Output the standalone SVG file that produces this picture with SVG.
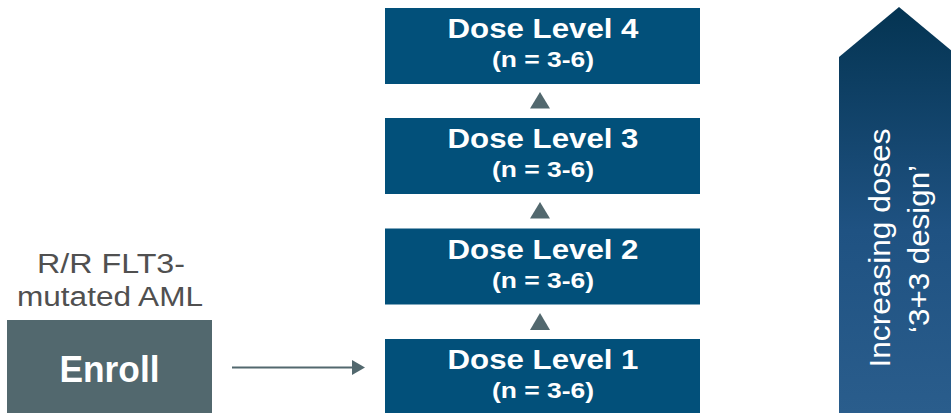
<svg xmlns="http://www.w3.org/2000/svg" width="951" height="413" viewBox="0 0 951 413">
<defs>
<linearGradient id="bigArrowGrad" x1="0" y1="0" x2="0" y2="1">
<stop offset="0" stop-color="#043452"/>
<stop offset="0.55" stop-color="#1f5282"/>
<stop offset="1" stop-color="#2a5d8c"/>
</linearGradient>
<marker id="arrowHead" viewBox="0 0 13 15" refX="0" refY="7.5" markerWidth="13" markerHeight="15" markerUnits="userSpaceOnUse" orient="auto">
<path d="M0,0 L13,7.5 L0,15 Z" fill="#52686e"/>
</marker>
<style>
.dose rect { fill: #02507a; }
.t { font-family: "Liberation Sans", Arial, sans-serif; fill: #ffffff; font-weight: bold; text-anchor: middle; }
.big { font-size: 28px; }
.small { font-size: 22px; }
.label { font-family: "Liberation Sans", Arial, sans-serif; fill: #505050; font-size: 27px; text-anchor: middle; }
.tri { fill: #52686e; }
.side { font-family: "Liberation Sans", Arial, sans-serif; fill: #ffffff; font-size: 30px; text-anchor: middle; }
</style>
</defs>
<rect width="951" height="413" fill="#ffffff"/>

<g id="label-population">
<text class="label" x="111" y="273" textLength="148" lengthAdjust="spacingAndGlyphs">R/R FLT3-</text>
<text class="label" x="110" y="306" textLength="186" lengthAdjust="spacingAndGlyphs">mutated AML</text>
</g>

<g id="enroll">
<rect x="7" y="320" width="205" height="93" fill="#52686e"/>
<text class="t" x="109.5" y="382" font-size="36" textLength="100" lengthAdjust="spacingAndGlyphs">Enroll</text>
</g>

<g id="dose4" class="dose">
<rect x="385" y="8" width="315" height="76"/>
<text class="t big" x="543" y="38" textLength="191" lengthAdjust="spacingAndGlyphs">Dose Level 4</text>
<text class="t small" x="543" y="67" textLength="102" lengthAdjust="spacingAndGlyphs">(n = 3-6)</text>
</g>
<g id="dose3" class="dose">
<rect x="385" y="118" width="315" height="76"/>
<text class="t big" x="543" y="148" textLength="191" lengthAdjust="spacingAndGlyphs">Dose Level 3</text>
<text class="t small" x="543" y="177" textLength="102" lengthAdjust="spacingAndGlyphs">(n = 3-6)</text>
</g>
<g id="dose2" class="dose">
<rect x="385" y="228.5" width="315" height="76"/>
<text class="t big" x="543" y="258.5" textLength="191" lengthAdjust="spacingAndGlyphs">Dose Level 2</text>
<text class="t small" x="543" y="287.5" textLength="102" lengthAdjust="spacingAndGlyphs">(n = 3-6)</text>
</g>
<g id="dose1" class="dose">
<rect x="385" y="339" width="315" height="76"/>
<text class="t big" x="543" y="369" textLength="191" lengthAdjust="spacingAndGlyphs">Dose Level 1</text>
<text class="t small" x="543" y="398" textLength="102" lengthAdjust="spacingAndGlyphs">(n = 3-6)</text>
</g>

<g id="connectors">
<line x1="232" y1="367.5" x2="352" y2="367.5" stroke="#52686e" stroke-width="2" marker-end="url(#arrowHead)"/>
<polygon class="tri" points="530,330 550,330 540,313"/>
<polygon class="tri" points="530,218.5 550,218.5 540,202"/>
<polygon class="tri" points="530,108.5 550,108.5 540,92"/>
</g>

<g id="increasing-arrow">
<polygon points="899,7 959,57 959,413 839,413 839,57" fill="url(#bigArrowGrad)"/>
<text class="side" transform="translate(890,248) rotate(-90)" textLength="239" lengthAdjust="spacingAndGlyphs">Increasing doses</text>
<text class="side" transform="translate(929,249) rotate(-90)" textLength="168" lengthAdjust="spacingAndGlyphs">‘3+3 design’</text>
</g>
</svg>
